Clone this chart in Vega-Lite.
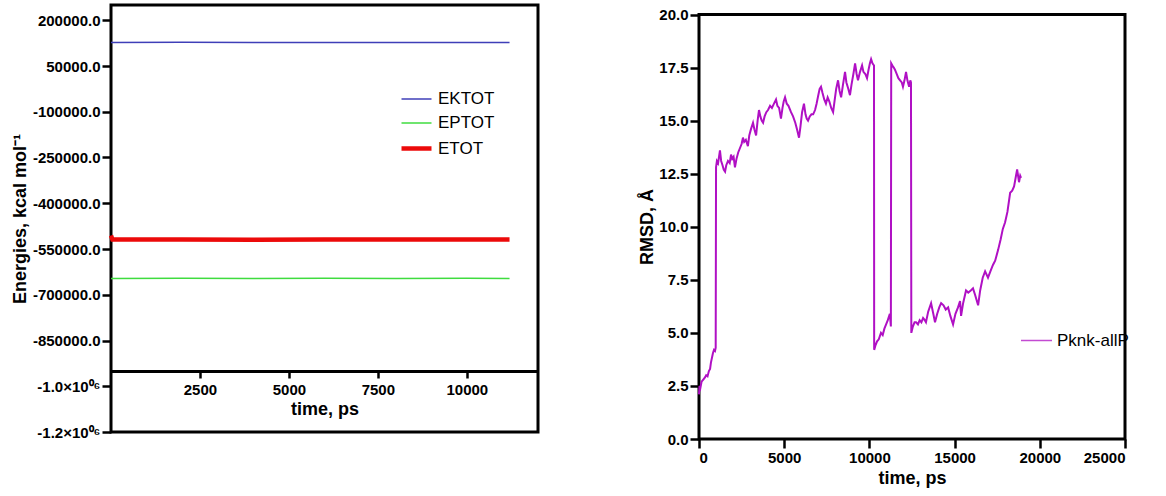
{
  "$schema": "https://vega.github.io/schema/vega-lite/v6.json",
  "background": "white",
  "padding": {"left": 11, "top": 3, "right": 5, "bottom": 5},
  "spacing": 98,
  "resolve": {
    "scale": {"color": "independent", "strokeWidth": "independent"},
    "legend": {"color": "independent", "strokeWidth": "independent"}
  },
  "config": {
    "font": "Liberation Sans",
    "view": {"stroke": null},
    "axis": {
      "grid": false,
      "labelFont": "Liberation Sans",
      "labelFontWeight": "bold",
      "labelFontSize": 15,
      "labelColor": "black",
      "titleFont": "Liberation Sans",
      "titleFontWeight": "bold",
      "titleFontSize": 18,
      "titleColor": "black",
      "tickColor": "black",
      "tickWidth": 2.5,
      "tickSize": 9,
      "domainColor": "black",
      "domainWidth": 3,
      "labelPadding": 2
    },
    "legend": {
      "labelFont": "Liberation Sans",
      "labelFontSize": 17,
      "labelColor": "black",
      "padding": 0
    }
  },
  "datasets": {
    "energies": [
      {"series": "EKTOT", "time": 0, "energy": 127000},
      {"series": "EKTOT", "time": 2000, "energy": 127500},
      {"series": "EKTOT", "time": 4000, "energy": 126800},
      {"series": "EKTOT", "time": 6000, "energy": 127200},
      {"series": "EKTOT", "time": 8000, "energy": 126900},
      {"series": "EKTOT", "time": 10000, "energy": 127300},
      {"series": "EKTOT", "time": 11200, "energy": 127000},
      {"series": "EPTOT", "time": 0, "energy": -646500},
      {"series": "EPTOT", "time": 2000, "energy": -646000},
      {"series": "EPTOT", "time": 4000, "energy": -646800},
      {"series": "EPTOT", "time": 6000, "energy": -646300},
      {"series": "EPTOT", "time": 8000, "energy": -646700},
      {"series": "EPTOT", "time": 10000, "energy": -646200},
      {"series": "EPTOT", "time": 11200, "energy": -646500},
      {"series": "ETOT", "time": 0, "energy": -506000},
      {"series": "ETOT", "time": 40, "energy": -519000},
      {"series": "ETOT", "time": 2000, "energy": -518500},
      {"series": "ETOT", "time": 4000, "energy": -519300},
      {"series": "ETOT", "time": 6000, "energy": -518700},
      {"series": "ETOT", "time": 8000, "energy": -519200},
      {"series": "ETOT", "time": 10000, "energy": -518800},
      {"series": "ETOT", "time": 11200, "energy": -519000}
    ],
    "trajectory": [
      {"time": 0, "rmsd": 2.1}, {"time": 30, "rmsd": 2.5}, {"time": 80, "rmsd": 2.4},
      {"time": 150, "rmsd": 2.7}, {"time": 250, "rmsd": 2.8}, {"time": 350, "rmsd": 2.9},
      {"time": 420, "rmsd": 3.0}, {"time": 500, "rmsd": 2.95}, {"time": 580, "rmsd": 3.2},
      {"time": 650, "rmsd": 3.3}, {"time": 700, "rmsd": 3.6}, {"time": 780, "rmsd": 3.9},
      {"time": 820, "rmsd": 4.05}, {"time": 880, "rmsd": 4.2}, {"time": 940, "rmsd": 4.15},
      {"time": 980, "rmsd": 4.3}, {"time": 1000, "rmsd": 12.8}, {"time": 1050, "rmsd": 13.1},
      {"time": 1120, "rmsd": 13.0}, {"time": 1230, "rmsd": 13.6}, {"time": 1300, "rmsd": 13.1},
      {"time": 1380, "rmsd": 12.9}, {"time": 1450, "rmsd": 12.7}, {"time": 1530, "rmsd": 12.6},
      {"time": 1600, "rmsd": 12.9}, {"time": 1700, "rmsd": 13.1}, {"time": 1800, "rmsd": 13.0},
      {"time": 1880, "rmsd": 13.4}, {"time": 1950, "rmsd": 13.2}, {"time": 2030, "rmsd": 13.3},
      {"time": 2110, "rmsd": 12.8}, {"time": 2200, "rmsd": 13.2}, {"time": 2300, "rmsd": 13.5},
      {"time": 2400, "rmsd": 13.7}, {"time": 2500, "rmsd": 13.9}, {"time": 2580, "rmsd": 14.2},
      {"time": 2650, "rmsd": 14.0}, {"time": 2750, "rmsd": 14.1}, {"time": 2870, "rmsd": 13.8},
      {"time": 2950, "rmsd": 14.3}, {"time": 3050, "rmsd": 14.6}, {"time": 3170, "rmsd": 14.9},
      {"time": 3250, "rmsd": 14.6}, {"time": 3350, "rmsd": 14.3}, {"time": 3440, "rmsd": 15.0},
      {"time": 3520, "rmsd": 15.5}, {"time": 3600, "rmsd": 15.2}, {"time": 3680, "rmsd": 15.0},
      {"time": 3760, "rmsd": 14.9}, {"time": 3850, "rmsd": 15.2}, {"time": 3950, "rmsd": 15.4},
      {"time": 4050, "rmsd": 15.5}, {"time": 4170, "rmsd": 15.7}, {"time": 4280, "rmsd": 15.6},
      {"time": 4400, "rmsd": 15.8}, {"time": 4520, "rmsd": 16.0}, {"time": 4600, "rmsd": 15.7},
      {"time": 4700, "rmsd": 15.6}, {"time": 4810, "rmsd": 15.1}, {"time": 4900, "rmsd": 15.6},
      {"time": 4970, "rmsd": 15.9}, {"time": 5050, "rmsd": 16.1}, {"time": 5150, "rmsd": 15.8},
      {"time": 5250, "rmsd": 15.7}, {"time": 5400, "rmsd": 15.4}, {"time": 5520, "rmsd": 15.2},
      {"time": 5650, "rmsd": 14.9}, {"time": 5750, "rmsd": 14.6}, {"time": 5870, "rmsd": 14.2},
      {"time": 5950, "rmsd": 14.7}, {"time": 6050, "rmsd": 15.4}, {"time": 6160, "rmsd": 15.8},
      {"time": 6250, "rmsd": 15.3}, {"time": 6320, "rmsd": 15.1}, {"time": 6400, "rmsd": 15.0},
      {"time": 6500, "rmsd": 15.2}, {"time": 6600, "rmsd": 15.3}, {"time": 6700, "rmsd": 15.3},
      {"time": 6810, "rmsd": 15.5}, {"time": 6900, "rmsd": 15.8}, {"time": 7000, "rmsd": 16.2},
      {"time": 7080, "rmsd": 16.5}, {"time": 7160, "rmsd": 16.6}, {"time": 7250, "rmsd": 16.3},
      {"time": 7350, "rmsd": 16.0}, {"time": 7450, "rmsd": 15.8}, {"time": 7550, "rmsd": 16.1},
      {"time": 7650, "rmsd": 15.9}, {"time": 7760, "rmsd": 15.6}, {"time": 7870, "rmsd": 15.4},
      {"time": 7950, "rmsd": 15.9}, {"time": 8050, "rmsd": 16.5}, {"time": 8160, "rmsd": 16.9},
      {"time": 8250, "rmsd": 16.4}, {"time": 8340, "rmsd": 16.1}, {"time": 8450, "rmsd": 16.7},
      {"time": 8570, "rmsd": 17.3}, {"time": 8650, "rmsd": 16.8}, {"time": 8760, "rmsd": 16.5},
      {"time": 8860, "rmsd": 16.2}, {"time": 8950, "rmsd": 16.7}, {"time": 9060, "rmsd": 17.2},
      {"time": 9160, "rmsd": 17.7}, {"time": 9250, "rmsd": 17.2}, {"time": 9330, "rmsd": 16.9},
      {"time": 9450, "rmsd": 17.3}, {"time": 9570, "rmsd": 17.6}, {"time": 9650, "rmsd": 17.3},
      {"time": 9760, "rmsd": 17.2}, {"time": 9860, "rmsd": 17.0}, {"time": 9950, "rmsd": 17.4},
      {"time": 10030, "rmsd": 17.7}, {"time": 10100, "rmsd": 17.9}, {"time": 10180, "rmsd": 17.7},
      {"time": 10270, "rmsd": 17.6}, {"time": 10280, "rmsd": 4.2}, {"time": 10350, "rmsd": 4.4},
      {"time": 10450, "rmsd": 4.6}, {"time": 10550, "rmsd": 4.7}, {"time": 10680, "rmsd": 5.0},
      {"time": 10780, "rmsd": 4.9}, {"time": 10880, "rmsd": 5.2}, {"time": 10980, "rmsd": 5.4},
      {"time": 11080, "rmsd": 5.6}, {"time": 11200, "rmsd": 5.9}, {"time": 11260, "rmsd": 5.3},
      {"time": 11280, "rmsd": 17.7}, {"time": 11350, "rmsd": 17.6}, {"time": 11430, "rmsd": 17.5},
      {"time": 11500, "rmsd": 17.4}, {"time": 11600, "rmsd": 17.2}, {"time": 11700, "rmsd": 17.0},
      {"time": 11800, "rmsd": 16.9}, {"time": 11900, "rmsd": 16.8}, {"time": 11970, "rmsd": 16.6},
      {"time": 12060, "rmsd": 16.9}, {"time": 12150, "rmsd": 17.3}, {"time": 12230, "rmsd": 16.9},
      {"time": 12330, "rmsd": 16.6}, {"time": 12400, "rmsd": 16.9}, {"time": 12440, "rmsd": 16.8},
      {"time": 12460, "rmsd": 5.0}, {"time": 12550, "rmsd": 5.3}, {"time": 12650, "rmsd": 5.5},
      {"time": 12740, "rmsd": 5.5}, {"time": 12850, "rmsd": 5.4}, {"time": 12950, "rmsd": 5.6},
      {"time": 13050, "rmsd": 5.5}, {"time": 13150, "rmsd": 5.7}, {"time": 13250, "rmsd": 5.6},
      {"time": 13320, "rmsd": 5.5}, {"time": 13450, "rmsd": 6.0}, {"time": 13620, "rmsd": 6.4},
      {"time": 13750, "rmsd": 5.9}, {"time": 13850, "rmsd": 5.5}, {"time": 13980, "rmsd": 5.9},
      {"time": 14100, "rmsd": 6.2}, {"time": 14210, "rmsd": 6.4}, {"time": 14350, "rmsd": 6.3},
      {"time": 14480, "rmsd": 6.1}, {"time": 14620, "rmsd": 6.2}, {"time": 14750, "rmsd": 5.8},
      {"time": 14910, "rmsd": 5.4}, {"time": 15050, "rmsd": 5.9}, {"time": 15200, "rmsd": 6.2},
      {"time": 15320, "rmsd": 6.5}, {"time": 15380, "rmsd": 5.8}, {"time": 15500, "rmsd": 6.4},
      {"time": 15670, "rmsd": 7.0}, {"time": 15800, "rmsd": 6.9}, {"time": 15950, "rmsd": 7.0},
      {"time": 16080, "rmsd": 7.1}, {"time": 16200, "rmsd": 6.8}, {"time": 16380, "rmsd": 6.3},
      {"time": 16500, "rmsd": 7.0}, {"time": 16650, "rmsd": 7.6}, {"time": 16790, "rmsd": 7.9},
      {"time": 16960, "rmsd": 7.6}, {"time": 17100, "rmsd": 7.9}, {"time": 17250, "rmsd": 8.2},
      {"time": 17380, "rmsd": 8.4}, {"time": 17550, "rmsd": 8.9}, {"time": 17700, "rmsd": 9.4},
      {"time": 17830, "rmsd": 9.9}, {"time": 17960, "rmsd": 10.2}, {"time": 18100, "rmsd": 10.7},
      {"time": 18260, "rmsd": 11.6}, {"time": 18380, "rmsd": 11.7}, {"time": 18490, "rmsd": 11.9},
      {"time": 18580, "rmsd": 12.3}, {"time": 18670, "rmsd": 12.7}, {"time": 18780, "rmsd": 12.1},
      {"time": 18850, "rmsd": 12.4}, {"time": 18900, "rmsd": 12.3}
    ]
  },
  "hconcat": [
    {
      "width": 427,
      "height": 427,
      "layer": [
        {
          "data": {"values": [{"frame": "box"}]},
          "mark": {"type": "rect", "filled": false, "stroke": "black", "strokeWidth": 3},
          "encoding": {
            "x": {"datum": 0, "type": "quantitative"},
            "x2": {"datum": 12000},
            "y": {"datum": -1150000, "type": "quantitative"},
            "y2": {"datum": 250000}
          }
        },
        {
          "data": {"name": "energies"},
          "mark": {"type": "line"},
          "encoding": {
            "x": {
              "field": "time",
              "type": "quantitative",
              "scale": {"domain": [0, 12000], "nice": false, "zero": false},
              "axis": {
                "title": "time, ps",
                "values": [2500, 5000, 7500, 10000],
                "format": "d",
                "offset": -61,
                "tickSize": 7,
                "labelPadding": 4,
                "titlePadding": 3
              }
            },
            "y": {
              "field": "energy",
              "type": "quantitative",
              "scale": {"domain": [-1150000, 250000], "nice": false, "zero": false},
              "axis": {
                "title": "Energies, kcal mol⁻¹",
                "domain": false,
                "values": [200000, 50000, -100000, -250000, -400000, -550000, -700000, -850000, -1000000, -1150000],
                "labelExpr": "datum.value == -1000000 ? '-1.0×10⁰⁶' : (datum.value == -1150000 ? '-1.2×10⁰⁶' : datum.value + '.0')",
                "titlePadding": 3
              }
            },
            "color": {
              "field": "series",
              "type": "nominal",
              "scale": {"domain": ["EKTOT", "EPTOT", "ETOT"], "range": ["#3f3fb8", "#3fdc3f", "#ec0a0a"]},
              "legend": {"orient": "none", "legendX": 288, "legendY": 78, "title": null, "symbolType": "stroke", "symbolSize": 900, "rowPadding": -9.5}
            },
            "strokeWidth": {
              "field": "series",
              "type": "nominal",
              "scale": {"type": "ordinal", "domain": ["EKTOT", "EPTOT", "ETOT"], "range": [1.5, 1.5, 4.5]},
              "legend": {"orient": "none", "legendX": 288, "legendY": 78, "title": null, "symbolType": "stroke", "symbolSize": 900, "rowPadding": -9.5}
            }
          }
        }
      ]
    },
    {
      "width": 426,
      "height": 434,
      "layer": [
        {
          "data": {"values": [{"frame": "box"}]},
          "mark": {"type": "rect", "filled": false, "stroke": "black", "strokeWidth": 3},
          "encoding": {
            "x": {"datum": 0, "type": "quantitative"},
            "x2": {"datum": 25000},
            "y": {"datum": 0, "type": "quantitative"},
            "y2": {"datum": 20}
          }
        },
        {
          "data": {"name": "trajectory"},
          "mark": {"type": "line", "strokeWidth": 2},
          "encoding": {
            "x": {
              "field": "time",
              "type": "quantitative",
              "scale": {"domain": [0, 25000], "nice": false, "zero": false},
              "axis": {
                "title": "time, ps",
                "domain": false,
                "values": [0, 5000, 10000, 15000, 20000, 25000],
                "format": "d",
                "labelPadding": 2,
                "titlePadding": 4
              }
            },
            "y": {
              "field": "rmsd",
              "type": "quantitative",
              "scale": {"domain": [0, 20.45], "nice": false, "zero": false},
              "axis": {
                "title": "RMSD, Å",
                "domain": false,
                "values": [0, 2.5, 5, 7.5, 10, 12.5, 15, 17.5, 20],
                "format": ".1f",
                "titlePadding": 2,
                "titleY": 221.5
              }
            },
            "color": {
              "datum": "Pknk-allP",
              "type": "nominal",
              "scale": {"range": ["#b010c4"]},
              "legend": {"orient": "none", "legendX": 321, "legendY": 319, "title": null, "symbolType": "stroke", "symbolSize": 961, "symbolStrokeWidth": 1.5, "symbolOpacity": 0.75}
            }
          }
        }
      ]
    }
  ]
}
